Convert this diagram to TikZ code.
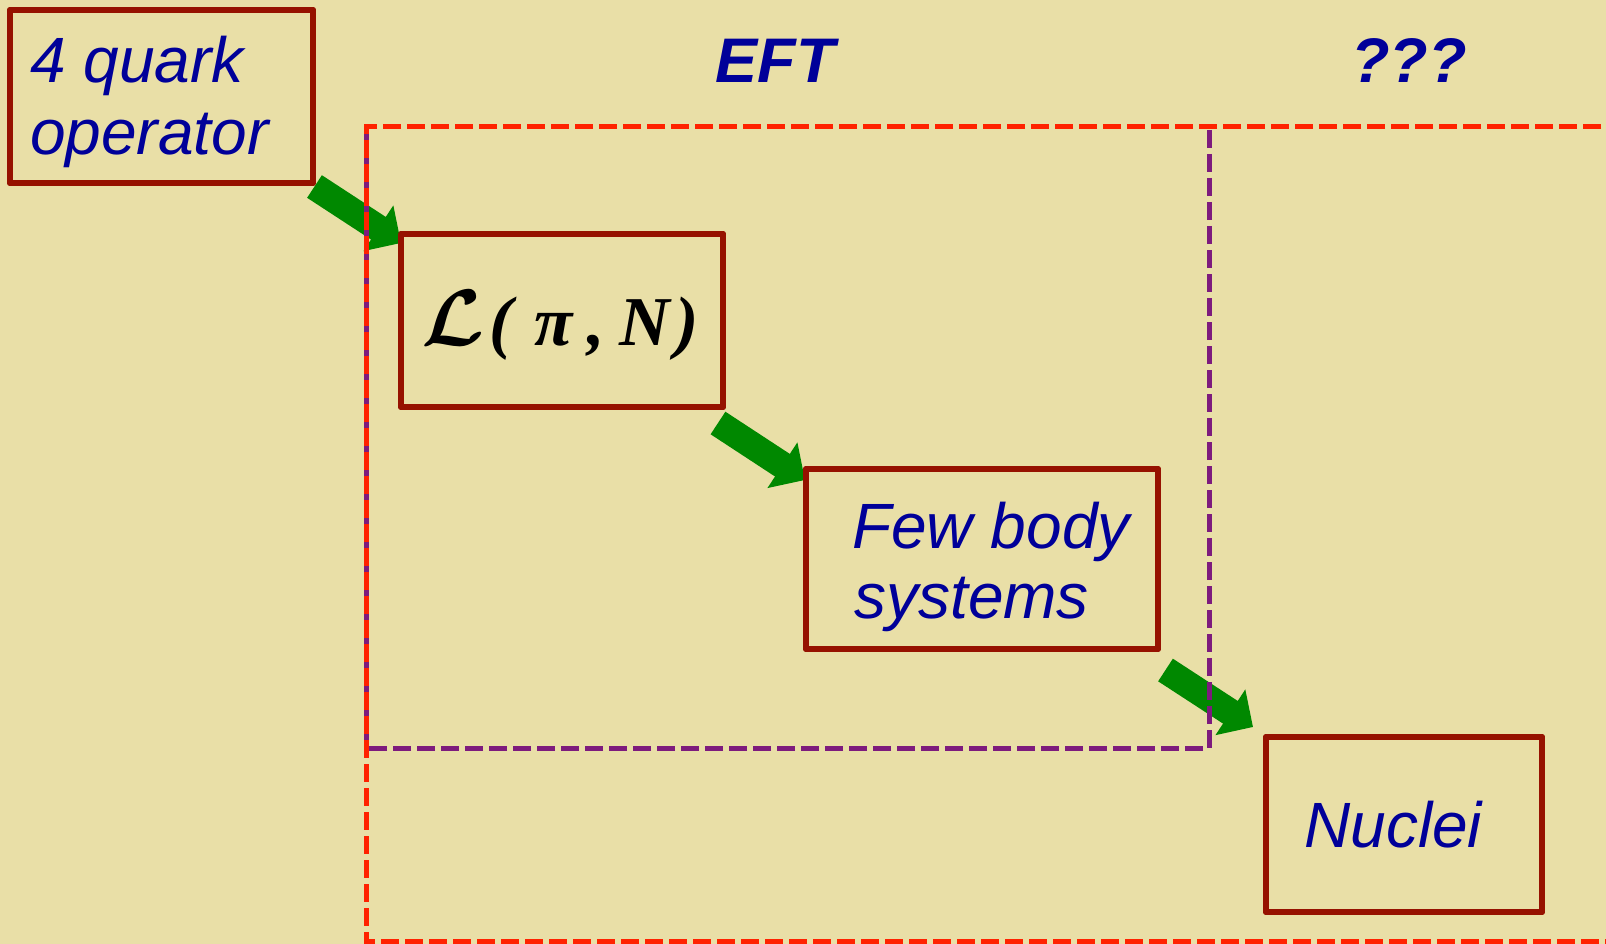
\documentclass[tikz,border=0pt]{standalone}
\usepackage{fontspec}
\setmainfont{Liberation Sans}
\newfontfamily\tnr{Liberation Serif}
\usepackage{amsmath,bm}
\usetikzlibrary{arrows.meta,calc}
\definecolor{bg}{RGB}{233,223,167}
\definecolor{boxred}{RGB}{150,18,0}
\definecolor{txtblue}{RGB}{0,0,153}
\definecolor{arrowgreen}{RGB}{0,136,0}
\definecolor{dashred}{RGB}{255,34,0}
\definecolor{dashpurple}{RGB}{125,27,125}
\begin{document}
\begin{tikzpicture}[x=1pt,y=-1pt,
  box/.style={draw=boxred,line width=5.5pt,line join=round,inner sep=0pt,outer sep=0pt,anchor=north west},
  txt/.style={text=txtblue,font=\fontsize{64}{72}\selectfont\itshape,inner sep=0pt,anchor=base west},
  head/.style={text=txtblue,font=\fontsize{63}{72}\selectfont\bfseries\itshape,inner sep=0pt,anchor=base},
  flow/.style={draw=arrowgreen,line width=27pt,-{Triangle[length=27pt,width=53pt]}},
  reddash/.style={draw=dashred,line width=5pt,dash pattern=on 18pt off 6pt},
  purpledash/.style={draw=dashpurple,line width=5pt,dash pattern=on 18pt off 6pt}]
\useasboundingbox (0,0) rectangle (1606,944);
\fill[bg] (0,0) rectangle (1606,944);

% boxes (named)
\node[box,minimum width=303pt,minimum height=173pt] (quark) at (10,10) {};
\node[box,minimum width=322pt,minimum height=173pt] (lag) at (401,234) {};
\node[box,minimum width=352pt,minimum height=180pt] (few) at (806,469) {};
\node[box,minimum width=276pt,minimum height=175pt] (nuc) at (1266,737) {};

% arrows
\draw[flow] ($(quark.south east)+(1.5,3.5)$) -- ($(lag.north west)+(0,9)$);
\draw[flow] ($(lag.south east)+(-5,16)$) -- ($(few.north west)+(-1,11)$);
\draw[flow] ($(few.south east)+(7.5,21)$) -- ($(nuc.north west)+(-13,-10)$);

% dashed regions
\draw[purpledash] (1209,130) -- (1209,748) -- (366,748) -- (366,127);
\draw[reddash] (1625,127) -- (366,127) -- (366,941) -- (1625,941);

% redraw box borders on top
\draw[box] (quark.north west) rectangle (quark.south east);
\draw[box] (lag.north west) rectangle (lag.south east);
\draw[box] (few.north west) rectangle (few.south east);
\draw[box] (nuc.north west) rectangle (nuc.south east);

% texts
\node[txt] (t1) at (30,83) {4 quark};
\node[txt] (t2) at (30,155) {operator};
\node[txt] (t3) at (852,548) {Few body};
\node[txt] (t4) at (854,618) {systems};
\node[txt] (t5) at (1304,847) {Nuclei};
\node[head] (eft) at (775,83) {EFT};
\node[head] (qqq) at (1409,83) {???};
\node[inner sep=0pt,anchor=base west] (lagtxt) at (421,345)
  {\scalebox{8}{$\bm{\mathcal{L}}$}\hspace{5pt}{\tnr\fontsize{70}{74}\selectfont\bfseries\itshape (\hspace{22pt}π\hspace{15pt},\hspace{14pt}N\hspace{6pt})}};
\end{tikzpicture}
\end{document}
